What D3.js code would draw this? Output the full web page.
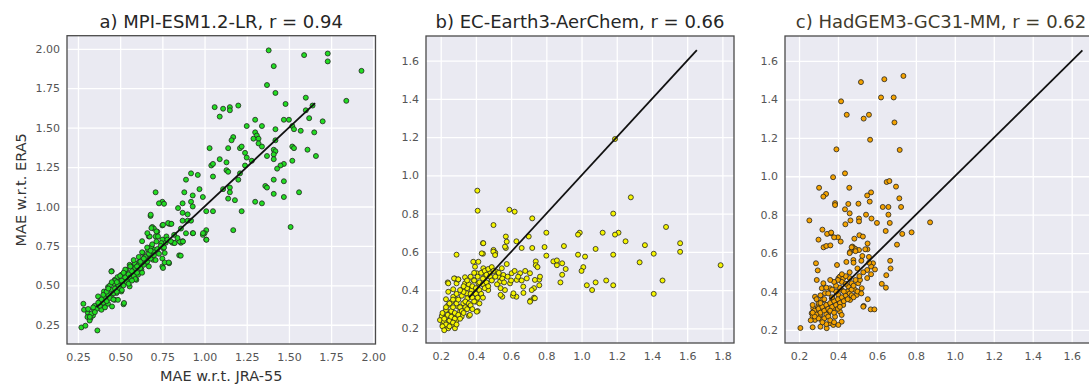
<!DOCTYPE html>
<html>
<head>
<meta charset="utf-8">
<script src="https://cdn.jsdelivr.net/npm/d3@7"></script>
<style>
  html, body { margin: 0; padding: 0; background: #ffffff; }
  svg { display: block; font-family: "DejaVu Sans", sans-serif; }
</style>
</head>
<body>
<svg id="chart" width="1089" height="388"></svg>
<script>
// ---------------- data ----------------
const titles = ["a) MPI-ESM1.2-LR, r = 0.94", "b) EC-Earth3-AerChem, r = 0.66", "c) HadGEM3-GC31-MM, r = 0.62"];
const xLabel = "MAE w.r.t. JRA-55";
const yLabel = "MAE w.r.t. ERA5";

const ticksA = [0.25, 0.50, 0.75, 1.00, 1.25, 1.50, 1.75, 2.00];
const ticksBx = [0.2, 0.4, 0.6, 0.8, 1.0, 1.2, 1.4, 1.6, 1.8];
const ticksBy = [0.2, 0.4, 0.6, 0.8, 1.0, 1.2, 1.4, 1.6];
const ticksCx = [0.2, 0.4, 0.6, 0.8, 1.0, 1.2, 1.4, 1.6];
const ticksCy = [0.2, 0.4, 0.6, 0.8, 1.0, 1.2, 1.4, 1.6];

const refLine = [0.36, 1.655];

const mpiPoints = [
[1.38,1.99],[1.59,1.96],[1.73,1.97],[1.73,1.92],[1.41,1.89],[1.93,1.86],[1.37,1.77],[1.42,1.72],[1.84,1.67],[1.60,1.69],[1.48,1.65],[1.64,1.64],[1.20,1.64],[1.06,1.63],[1.11,1.62],[1.15,1.63],[1.15,1.61],[1.09,1.57],[1.60,1.61],[1.62,1.56],[1.30,1.55],[1.47,1.55],[1.50,1.55],[1.70,1.54],[1.25,1.51],[1.34,1.51],[1.52,1.51],[1.53,1.49],[1.42,1.49],[1.57,1.48],[1.65,1.47],[1.30,1.47],[1.31,1.45],[1.29,1.43],[1.32,1.43],[1.17,1.44],[1.16,1.42],[1.42,1.42],[1.32,1.40],[1.34,1.38],[1.03,1.37],[1.14,1.37],[1.21,1.37],[1.22,1.38],[1.52,1.38],[1.53,1.37],[1.41,1.36],[1.42,1.35],[1.41,1.33],[1.61,1.36],[1.24,1.34],[1.66,1.32],[1.37,1.32],[1.41,1.30],[1.09,1.30],[1.52,1.29],[1.25,1.31],[1.13,1.28],[1.04,1.26],[1.05,1.27],[1.24,1.26],[1.47,1.27],[1.45,1.26],[1.28,1.29],[1.43,1.24],[1.13,1.23],[1.14,1.22],[0.92,1.21],[0.96,1.20],[1.05,1.19],[1.21,1.21],[0.89,1.17],[1.41,1.17],[1.47,1.16],[1.20,1.17],[1.36,1.13],[1.37,1.12],[0.97,1.11],[1.11,1.11],[1.15,1.12],[1.15,1.09],[0.88,1.09],[0.71,1.09],[1.56,1.09],[1.41,1.08],[0.93,1.07],[0.99,1.06],[1.47,1.06],[1.14,1.05],[1.18,1.04],[0.75,1.03],[0.73,1.02],[0.87,1.02],[0.92,1.03],[1.30,1.03],[1.34,1.02],[0.93,1.00],[1.01,0.97],[1.05,0.97],[1.22,0.97],[0.87,0.96],[0.68,0.94],[0.90,0.95],[0.87,0.91],[0.90,0.91],[0.80,0.89],[0.79,0.89],[0.75,0.88],[0.69,0.87],[0.70,0.86],[1.51,0.87],[1.17,0.85],[1.01,0.85],[1.00,0.83],[0.99,0.82],[1.01,0.79],[0.93,0.83],[0.89,0.83],[0.72,0.84],[0.67,0.81],[0.71,0.81],[0.63,0.78],[0.75,0.79],[0.81,0.77],[0.82,0.77],[0.86,0.77],[0.87,0.78],[0.77,0.77],[0.75,0.67],[0.75,0.62],[0.79,0.64],[0.85,0.69],[0.45,0.59],[0.52,0.38],
[0.27,0.233],[0.294,0.244],[0.365,0.214],[0.282,0.383],[0.286,0.345],[0.309,0.324],[0.306,0.299],[0.325,0.293],[0.319,0.277],[0.339,0.309],[0.349,0.37],[0.345,0.345],[0.369,0.43],[0.379,0.398],[0.373,0.366],[0.389,0.345],[0.408,0.37],[0.418,0.408],[0.404,0.461],[0.428,0.489],[0.448,0.43],[0.428,0.383],[0.452,0.366],[0.468,0.408],[0.448,0.588],[0.468,0.535],[0.464,0.51],[0.484,0.552],[0.487,0.497],[0.497,0.525],[0.507,0.567],[0.478,0.451],[0.507,0.461],[0.527,0.518],[0.523,0.388],[0.487,0.408],[0.527,0.582],[0.537,0.599],[0.546,0.535],[0.556,0.493],[0.567,0.567],[0.556,0.63],[0.576,0.62],[0.586,0.588],[0.596,0.535],[0.606,0.567],[0.586,0.641],[0.616,0.651],[0.626,0.599],[0.635,0.705],[0.645,0.673],[0.655,0.641],[0.665,0.726],[0.675,0.694],[0.685,0.746],[0.695,0.662],[0.705,0.726],[0.715,0.778],[0.675,0.81],[0.661,0.831],[0.685,0.863],[0.681,0.948],[0.715,0.842],[0.724,0.81],[0.744,0.768],[0.754,0.736],[0.764,0.705],[0.774,0.81],[0.754,0.884],[0.784,0.895],[0.804,0.89],[0.823,0.768],[0.853,0.778],[0.872,0.778],[0.859,0.688],[0.764,0.645],[0.788,0.645],[0.754,0.61],[0.76,1.017],[0.843,0.99],[0.932,0.831],[0.991,0.831],[1.011,0.789],
[0.36,0.35],[0.38,0.37],[0.40,0.39],[0.41,0.42],[0.42,0.40],[0.43,0.44],[0.44,0.42],[0.45,0.47],[0.46,0.45],[0.47,0.48],[0.48,0.46],[0.49,0.50],[0.50,0.48],[0.51,0.53],[0.52,0.50],[0.53,0.55],[0.54,0.52],[0.55,0.57],[0.56,0.55],[0.57,0.59],[0.58,0.56],[0.59,0.61],[0.60,0.58],[0.61,0.63],[0.62,0.61],[0.63,0.66],[0.64,0.63],[0.65,0.68],[0.66,0.65],[0.67,0.70],[0.68,0.67],[0.70,0.71],[0.72,0.73],[0.74,0.75],[0.40,0.44],[0.44,0.50],[0.47,0.53],[0.50,0.56],[0.53,0.60],[0.56,0.62],[0.58,0.66],[0.61,0.68],[0.63,0.71],[0.66,0.74],[0.69,0.76],[0.46,0.41],[0.51,0.47],[0.55,0.51],[0.59,0.54],[0.63,0.58],[0.67,0.62],[0.71,0.66],[0.42,0.46],[0.57,0.53],[0.62,0.65],[0.52,0.58],[0.48,0.52],[0.39,0.41],[0.37,0.39],[0.34,0.36],[0.33,0.32],[0.35,0.33],[0.31,0.35],[0.32,0.30],[0.41,0.36],[0.43,0.48],[0.45,0.52],[0.60,0.62],[0.64,0.67],[0.68,0.72],[0.70,0.69],[0.73,0.70],[0.76,0.74],[0.78,0.79],[0.80,0.78],[0.82,0.82],[0.84,0.80],[0.86,0.86],[0.92,0.91]
];

const ecPoints = [
[0.408,0.92],[0.41,0.815],[0.59,0.82],[0.62,0.81],[1.19,1.19],[1.28,0.885],[1.18,0.80],[0.72,0.775],[1.48,0.73],[0.80,0.70],[0.99,0.70],[0.98,0.69],[1.12,0.70],[1.21,0.70],[1.19,0.69],[0.50,0.74],[0.57,0.68],[0.70,0.68],[1.25,0.655],[0.44,0.645],[0.63,0.655],[1.36,0.635],[1.56,0.645],[1.56,0.60],[0.90,0.63],[1.08,0.615],[0.79,0.625],[0.72,0.62],[0.66,0.62],[0.57,0.62],[0.29,0.585],[0.50,0.61],[0.51,0.595],[0.98,0.585],[1.02,0.575],[1.18,0.585],[1.41,0.59],[0.80,0.58],[0.44,0.59],[1.33,0.545],[1.79,0.53],[0.84,0.55],[0.86,0.53],[0.86,0.555],[0.89,0.54],[0.91,0.51],[1.01,0.52],[1.00,0.50],[0.74,0.55],[0.74,0.53],[0.75,0.52],[0.89,0.48],[0.88,0.44],[0.76,0.455],[0.76,0.425],[1.14,0.45],[1.18,0.425],[1.08,0.44],[1.03,0.425],[1.06,0.40],[1.46,0.45],[1.41,0.38],[0.73,0.41],[0.71,0.345],[0.73,0.36],[0.67,0.385],[0.63,0.365],[0.61,0.37],[0.55,0.365],[0.54,0.375],[0.41,0.29],[0.36,0.265],[0.29,0.435],[0.24,0.44],[0.28,0.46],[0.30,0.455],
[0.206,0.264],[0.196,0.243],[0.211,0.217],[0.224,0.205],[0.243,0.2],[0.219,0.235],[0.234,0.261],[0.253,0.278],[0.23,0.296],[0.257,0.235],[0.271,0.217],[0.281,0.2],[0.291,0.243],[0.268,0.261],[0.243,0.322],[0.262,0.339],[0.281,0.357],[0.3,0.313],[0.31,0.287],[0.319,0.261],[0.328,0.331],[0.23,0.352],[0.271,0.365],[0.243,0.435],[0.243,0.391],[0.271,0.404],[0.276,0.461],[0.3,0.456],[0.328,0.409],[0.338,0.435],[0.348,0.383],[0.351,0.357],[0.363,0.322],[0.366,0.27],[0.338,0.467],[0.357,0.426],[0.376,0.4],[0.385,0.453],[0.395,0.522],[0.385,0.548],[0.414,0.548],[0.405,0.488],[0.414,0.435],[0.423,0.383],[0.401,0.339],[0.405,0.287],[0.433,0.592],[0.442,0.514],[0.452,0.47],[0.461,0.435],[0.47,0.4],[0.48,0.488],[0.49,0.453],[0.499,0.601],[0.509,0.583],[0.518,0.496],[0.527,0.47],[0.537,0.444],[0.547,0.514],[0.556,0.479],[0.565,0.4],[0.575,0.536],[0.594,0.435],[0.603,0.488],[0.613,0.383],[0.632,0.453],[0.651,0.488],[0.669,0.418],[0.689,0.461],[0.707,0.488],[0.717,0.4],[0.735,0.453],[0.764,0.47],[0.707,0.339],[0.735,0.357],[0.565,0.627],[0.575,0.653],[0.442,0.645],
[0.22,0.25],[0.24,0.27],[0.26,0.29],[0.25,0.24],[0.27,0.31],[0.29,0.33],[0.28,0.28],[0.30,0.35],[0.32,0.37],[0.31,0.31],[0.33,0.39],[0.35,0.41],[0.34,0.34],[0.36,0.43],[0.37,0.38],[0.38,0.42],[0.39,0.45],[0.40,0.41],[0.41,0.47],[0.42,0.44],[0.43,0.49],[0.44,0.46],[0.45,0.50],[0.46,0.48],[0.47,0.51],[0.48,0.47],[0.49,0.52],[0.50,0.50],[0.21,0.28],[0.23,0.31],[0.25,0.33],[0.27,0.35],[0.29,0.38],[0.31,0.40],[0.33,0.42],[0.35,0.45],[0.37,0.47],[0.39,0.49],[0.23,0.22],[0.26,0.26],[0.28,0.25],[0.30,0.27],[0.32,0.29],[0.34,0.31],[0.36,0.33],[0.38,0.36],[0.40,0.38],[0.42,0.40],[0.44,0.43],[0.46,0.44],[0.21,0.21],[0.22,0.19],[0.25,0.21],[0.27,0.23],[0.29,0.22],[0.31,0.25],[0.33,0.28],[0.35,0.30],[0.37,0.32],[0.39,0.34],[0.41,0.36],[0.43,0.38],[0.45,0.41],[0.47,0.42],[0.49,0.45],[0.51,0.47],[0.53,0.49],[0.55,0.46],[0.58,0.47],[0.60,0.45],[0.62,0.50],[0.64,0.47],[0.66,0.45],[0.68,0.50],[0.52,0.43],[0.54,0.41],[0.56,0.44],[0.44,0.36],[0.42,0.33],[0.38,0.30]
];

const hadPoints = [
[0.736,1.522],[0.638,1.505],[0.518,1.49],[0.621,1.41],[0.686,1.41],[0.416,1.39],[0.445,1.32],[0.532,1.30],[0.559,1.32],[0.69,1.28],[0.565,1.19],[0.717,1.137],[0.392,1.14],[0.436,1.015],[0.375,0.995],[0.65,0.97],[0.664,0.975],[0.698,0.946],[0.458,0.94],[0.303,0.94],[0.339,0.908],[0.325,0.894],[0.57,0.916],[0.55,0.90],[0.563,0.868],[0.715,0.885],[0.385,0.86],[0.385,0.85],[0.453,0.856],[0.505,0.857],[0.436,0.828],[0.63,0.84],[0.659,0.84],[0.724,0.84],[0.544,0.80],[0.46,0.807],[0.659,0.80],[0.572,0.78],[0.508,0.78],[0.508,0.765],[0.60,0.757],[0.464,0.77],[0.438,0.75],[0.253,0.77],[0.666,0.757],[0.873,0.76],[0.778,0.708],[0.73,0.70],[0.645,0.715],[0.32,0.722],[0.364,0.703],[0.344,0.70],[0.365,0.707],[0.40,0.682],[0.38,0.682],[0.414,0.66],[0.30,0.67],[0.51,0.693],[0.528,0.686],[0.484,0.675],[0.552,0.65],[0.326,0.63],[0.34,0.637],[0.361,0.64],[0.474,0.634],[0.484,0.625],[0.491,0.62],[0.508,0.616],[0.703,0.644],[0.462,0.606],[0.551,0.62],[0.525,0.585],[0.559,0.58],[0.668,0.56],[0.287,0.547],[0.395,0.538],[0.443,0.554],[0.58,0.547],[0.67,0.52],[0.57,0.53],[0.55,0.512],[0.59,0.515],[0.296,0.51],[0.648,0.485],[0.625,0.44],[0.646,0.42],[0.553,0.36],[0.532,0.325],[0.568,0.307],[0.587,0.307],[0.207,0.21],[0.27,0.214],[0.31,0.217],
[0.282,0.373],[0.291,0.46],[0.273,0.313],[0.265,0.287],[0.27,0.269],[0.282,0.252],[0.291,0.295],[0.299,0.321],[0.308,0.278],[0.317,0.252],[0.325,0.304],[0.325,0.356],[0.333,0.391],[0.342,0.33],[0.35,0.287],[0.342,0.209],[0.359,0.235],[0.368,0.365],[0.376,0.313],[0.385,0.269],[0.394,0.339],[0.402,0.382],[0.41,0.295],[0.419,0.408],[0.427,0.33],[0.436,0.365],[0.445,0.391],[0.376,0.226],[0.419,0.278],[0.453,0.426],[0.462,0.356],[0.47,0.443],[0.488,0.408],[0.496,0.382],[0.504,0.443],[0.513,0.46],[0.522,0.417],[0.317,0.417],[0.325,0.443],[0.359,0.417],[0.402,0.469],[0.41,0.478],[0.427,0.469],[0.419,0.243],[0.402,0.226],[0.53,0.321],[0.479,0.564],[0.46,0.6],[0.47,0.63],[0.49,0.61],
[0.28,0.30],[0.29,0.28],[0.30,0.31],[0.31,0.29],[0.32,0.32],[0.33,0.30],[0.34,0.33],[0.35,0.31],[0.36,0.34],[0.37,0.32],[0.38,0.35],[0.39,0.33],[0.40,0.36],[0.41,0.34],[0.42,0.37],[0.43,0.35],[0.44,0.38],[0.45,0.40],[0.46,0.39],[0.47,0.41],[0.48,0.43],[0.30,0.34],[0.32,0.36],[0.34,0.28],[0.36,0.30],[0.38,0.29],[0.40,0.31],[0.27,0.33],[0.29,0.36],[0.31,0.38],[0.33,0.26],[0.35,0.27],[0.37,0.37],[0.39,0.40],[0.41,0.42],[0.43,0.40],[0.45,0.36],[0.47,0.38],[0.49,0.46],[0.51,0.48],[0.36,0.25],[0.38,0.24],[0.34,0.23],[0.32,0.24],[0.30,0.26],[0.28,0.27],[0.26,0.25],[0.27,0.29],[0.39,0.43],[0.42,0.45],[0.44,0.44],[0.46,0.47],[0.37,0.41],[0.35,0.39],[0.33,0.36],[0.31,0.34],[0.53,0.50],[0.55,0.47],[0.57,0.49],[0.50,0.52],[0.48,0.55],[0.52,0.56],[0.56,0.55],[0.54,0.62],[0.46,0.50],[0.44,0.48],[0.40,0.46],[0.42,0.49],[0.38,0.45],[0.36,0.46],[0.34,0.42],[0.48,0.37],[0.50,0.40],[0.52,0.39],[0.41,0.32]
];

// ---------------- layout ----------------
const panels = [
  { pts: mpiPoints, fill: "#22dd22", box: [67, 375.5, 35.7, 344], xd: [0.185, 2.013], yd: [0.128, 2.083],
    xt: ticksA, yt: ticksA, fmt: d3.format(".2f"), title: titles[0], titleColor: "#262626", labels: true },
  { pts: ecPoints, fill: "#f5f500", box: [426, 734, 36, 343], xd: [0.1165, 1.866], yd: [0.123, 1.729],
    xt: ticksBx, yt: ticksBy, fmt: d3.format(".1f"), title: titles[1], titleColor: "#262626", labels: false },
  { pts: hadPoints, fill: "#f5a300", box: [785, 1097, 36, 343], xd: [0.128, 1.73], yd: [0.132, 1.73],
    xt: ticksCx, yt: ticksCy, fmt: d3.format(".1f"), title: titles[2], titleColor: "#3f3b2c", labels: false }
];

const svg = d3.select("#chart");

panels.forEach((p, i) => {
  const [x0, x1, y0, y1] = p.box;
  const x = d3.scaleLinear().domain(p.xd).range([x0, x1]);
  const y = d3.scaleLinear().domain(p.yd).range([y1, y0]);
  const g = svg.append("g");
  const clipId = "clip" + i;
  svg.append("clipPath").attr("id", clipId)
    .append("rect").attr("x", x0).attr("y", y0).attr("width", x1 - x0).attr("height", y1 - y0);

  // background
  g.append("rect").attr("x", x0).attr("y", y0).attr("width", x1 - x0).attr("height", y1 - y0)
    .attr("fill", "#eaeaf2");

  // grid via axes
  const gx = g.append("g").attr("transform", `translate(0,${y1})`)
    .call(d3.axisBottom(x).tickValues(p.xt).tickSize(-(y1 - y0)).tickFormat(p.fmt).tickPadding(9));
  const gy = g.append("g").attr("transform", `translate(${x0},0)`)
    .call(d3.axisLeft(y).tickValues(p.yt).tickSize(-(x1 - x0)).tickFormat(p.fmt).tickPadding(7));
  [gx, gy].forEach(ax => {
    ax.select(".domain").remove();
    ax.selectAll(".tick line").attr("stroke", "#ffffff").attr("stroke-width", 1.3);
    ax.selectAll(".tick text").attr("fill", "#555555").attr("font-size", 11)
      .attr("font-family", "DejaVu Sans, sans-serif");
  });

  const plot = g.append("g").attr("clip-path", `url(#${clipId})`);

  // scatter
  plot.selectAll("circle").data(p.pts).join("circle")
    .attr("cx", d => x(d[0])).attr("cy", d => y(d[1])).attr("r", 2.5)
    .attr("fill", p.fill).attr("stroke", "rgba(35,35,35,0.8)").attr("stroke-width", 1);

  // 1:1 reference line
  plot.append("line")
    .attr("x1", x(refLine[0])).attr("y1", y(refLine[0]))
    .attr("x2", x(refLine[1])).attr("y2", y(refLine[1]))
    .attr("stroke", "#111111").attr("stroke-width", 1.8);

  // frame
  g.append("rect").attr("x", x0).attr("y", y0).attr("width", x1 - x0).attr("height", y1 - y0)
    .attr("fill", "none").attr("stroke", "#4a4a4a").attr("stroke-width", 1.3);

  // title
  g.append("text").attr("x", (x0 + x1) / 2).attr("y", 28).attr("text-anchor", "middle")
    .attr("font-size", 18).attr("fill", p.titleColor).text(p.title);

  if (p.labels) {
    g.append("text").attr("x", (x0 + x1) / 2).attr("y", 381).attr("text-anchor", "middle")
      .attr("font-size", 14.5).attr("fill", "#333333").text(xLabel);
    g.append("text").attr("transform", `translate(26,${(y0 + y1) / 2}) rotate(-90)`)
      .attr("text-anchor", "middle").attr("font-size", 14.5).attr("fill", "#333333").text(yLabel);
  }
});
</script>
</body>
</html>
